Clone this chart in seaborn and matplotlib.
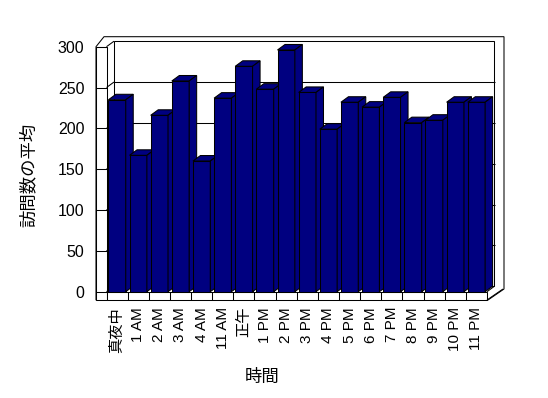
import matplotlib
matplotlib.use('Agg')
import matplotlib.pyplot as plt
import seaborn as sns
import pandas as pd
from matplotlib.patches import Polygon, Rectangle

# ---- data ----
hours = ['真夜中', '1 AM', '2 AM', '3 AM', '4 AM', '11 AM', '正午', '1 PM', '2 PM',
         '3 PM', '4 PM', '5 PM', '6 PM', '7 PM', '8 PM', '9 PM', '10 PM', '11 PM']
visits = [235, 167, 216, 258, 160, 237, 276, 248, 296, 244, 199, 232, 226, 238,
          207, 210, 232, 232]
yticks = [0, 50, 100, 150, 200, 250, 300]
xlabel = '時間'
ylabel = '訪問数の平均'

sns.set_theme(style='white')
plt.rcParams['font.family'] = ['Liberation Sans', 'Noto Sans CJK JP', 'DejaVu Sans']

W, H = 548, 398
fig = plt.figure(figsize=(W / 100, H / 100), dpi=100)
fig.patch.set_facecolor('white')
L, R, T, B = 106.5, 487.0, 46.7, 291.7
ax = fig.add_axes([L / W, 1 - B / H, (R - L) / W, (B - T) / H])

df = pd.DataFrame({'hour': hours, 'visits': visits})
NAVY = '#000080'
LWL = 0.75
sns.barplot(data=df, x='hour', y='visits', color=NAVY, width=0.82,
            edgecolor='black', linewidth=LWL, saturation=1, ax=ax)
bars = list(ax.patches)

n = len(hours)
ax.set_xlim(-0.5, n - 0.5)
ax.set_ylim(0, 300)
ax.patch.set_visible(False)
for s in ax.spines.values():
    s.set_visible(False)

sw = (R - L) / n          # px per category
ppu = (B - T) / 300.0     # px per value unit
DX, DY = 7.5, 5.5         # depth offset in px
dxu, dyu = DX / sw, DY / ppu
LW = 10.5                 # left wall thickness px
FT = 8.3                  # floor thickness px
xl = -0.5 - LW / sw
xr = n - 0.5
yb = -FT / ppu
ymax = 300

lk = dict(color='black', lw=LWL, clip_on=False, zorder=1.2, solid_capstyle='butt')

# outer frame
outer = Polygon([(xl, yb), (xl, ymax), (xl + 8 / sw, ymax + 10 / ppu),
                 (xr + 17 / sw, ymax + 10 / ppu), (xr + 17 / sw, 2.7 / ppu),
                 (xr + 1 / sw, yb)], closed=True, facecolor='white',
                edgecolor='black', lw=LWL, clip_on=False, zorder=1.0)
ax.add_patch(outer)
# back wall
ax.add_patch(Rectangle((-0.5 + dxu, dyu), n, ymax, facecolor='white',
                       edgecolor='black', lw=LWL, clip_on=False, zorder=1.1))
for v in yticks[1:-1]:
    ax.plot([-0.5 + dxu, xr + dxu], [v + dyu, v + dyu], **lk)
# left wall panel with ticks
ax.add_patch(Rectangle((xl, yb), -0.5 - xl, ymax - yb, facecolor='white',
                       edgecolor='black', lw=LWL, clip_on=False, zorder=1.1))
for v in yticks:
    ax.plot([xl, -0.5], [v, v], **lk)
    ax.plot([-0.5, -0.5 + dxu], [v, v + dyu], **lk)
# floor
ax.add_patch(Rectangle((-0.5, yb), n, -yb, facecolor='white',
                       edgecolor='black', lw=LWL, clip_on=False, zorder=1.1))
for k in range(1, n):
    ax.plot([k - 0.5, k - 0.5], [yb, 0], **lk)
ax.plot([xr, xr + dxu], [0, dyu], **lk)
ax.plot([xr, xr + 16 / sw], [yb, yb + 11 / ppu], **lk)

# 3D bars (extrude the seaborn bars)
for i, p in enumerate(bars):
    x0, w, h = p.get_x(), p.get_width(), p.get_height()
    z = 3 + i * 0.1
    p.set_zorder(z)
    p.set_clip_on(False)
    top = Polygon([(x0, h), (x0 + dxu, h + dyu), (x0 + w + dxu, h + dyu), (x0 + w, h)],
                  closed=True, facecolor=NAVY, edgecolor='black', lw=LWL,
                  clip_on=False, zorder=z + 0.05)
    side = Polygon([(x0 + w, 0), (x0 + w, h), (x0 + w + dxu, h + dyu), (x0 + w + dxu, dyu)],
                   closed=True, facecolor=NAVY, edgecolor='black', lw=LWL,
                   clip_on=False, zorder=z + 0.05)
    ax.add_patch(top)
    ax.add_patch(side)

ax.set_yticks(yticks)
ax.set_yticklabels([str(v) for v in yticks], fontsize=11.5, color='black')
ax.tick_params(axis='y', length=0, pad=16)
ax.set_xticks(range(n))
ax.set_xticklabels(hours, rotation=90, fontsize=11, color='black', va='top', ha='center')
ax.tick_params(axis='x', length=0, pad=11)
ax.set_xlabel('')
ax.set_ylabel('')

fig.text(28 / W, 1 - 175 / H, ylabel, rotation=90, ha='center', va='center',
         fontsize=12.5, color='black')
fig.text(262 / W, 1 - 377 / H, xlabel, ha='center', va='center',
         fontsize=12.5, color='black')

fig.savefig('out.png', dpi=100, facecolor='white')
